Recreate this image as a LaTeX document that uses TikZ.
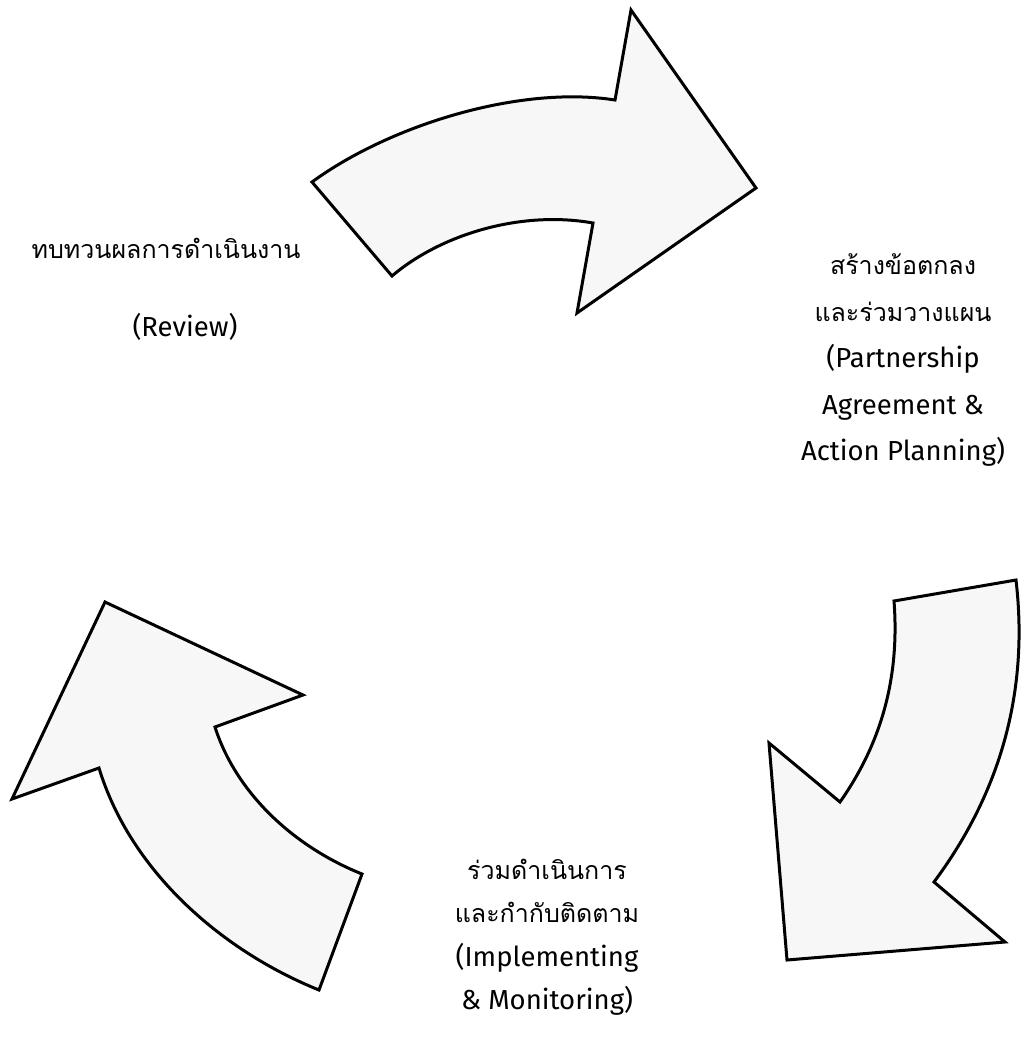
\documentclass[tikz,border=0pt]{standalone}
\usepackage{fontspec}
\newfontfamily\thaifont[Script=Thai]{Loma}
\newfontfamily\latinfont{Fira Sans}
\newcommand{\lat}[1]{{\latinfont\fontsize{27.5}{46}\selectfont #1}}
\begin{document}
\begin{tikzpicture}[x=1pt,y=-1pt,
  arrowshape/.style={draw=black,line width=3pt,line join=miter,fill=black!3},
  lbl/.style={font=\thaifont\fontsize{25}{46}\selectfont,align=center,inner sep=0pt}]
\useasboundingbox (0,0) rectangle (1022,1053);
% top arrow
\draw[arrowshape] (312,182) .. controls (390,125) and (520,85) .. (615,100)
  -- (631,10) -- (756,188) -- (577,313) -- (593,223)
  .. controls (520,210) and (440,235) .. (392,276) -- cycle;
% right arrow
\draw[arrowshape] (1016,580) -- (894,601)
  .. controls (900,680) and (880,745) .. (840,802)
  -- (769,743) -- (787,960) -- (1005,942) -- (934,882)
  .. controls (995,800) and (1030,700) .. (1016,580) -- cycle;
% left arrow
\draw[arrowshape] (105,602) -- (303,695) -- (215,727)
  .. controls (235,790) and (290,845) .. (362,874)
  -- (319,990)
  .. controls (220,950) and (130,870) .. (99,768)
  -- (12,799) -- cycle;
% labels
\node[lbl] (review) at (166,248) {ทบทวนผลการดำเนินงาน};
\node[lbl] (reviewen) at (185,327) {\lat{(Review)}};
\node[lbl,font=\thaifont\fontsize{25}{46.5}\selectfont] (plan) at (903,360)
  {สร้างข้อตกลง\\และร่วมวางแผน\\\lat{(Partnership}\\\lat{Agreement \&}\\\lat{Action Planning)}};
\node[lbl,font=\thaifont\fontsize{25}{43.5}\selectfont] (impl) at (547,937)
  {ร่วมดำเนินการ\\และกำกับติดตาม\\\lat{(Implementing}\\\lat{\& Monitoring)}};
\end{tikzpicture}
\end{document}
